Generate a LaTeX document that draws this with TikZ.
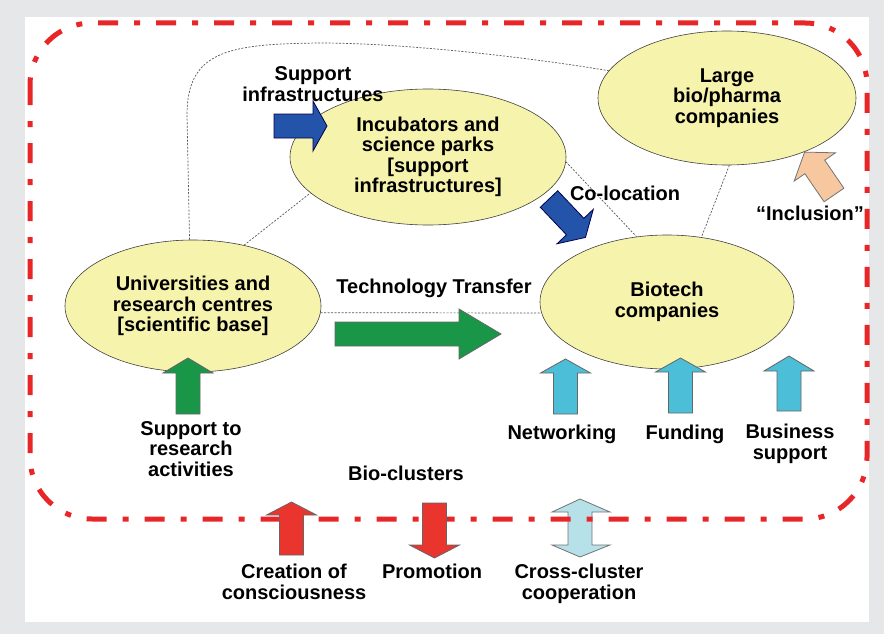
\documentclass[tikz,border=0pt]{standalone}
\usepackage{fontspec}
\setmainfont{Liberation Sans}
\usepackage{tikz}
\usetikzlibrary{shapes,positioning,calc}

\definecolor{framegray}{RGB}{229,231,233}
\definecolor{blobyellow}{RGB}{246,243,172}
\definecolor{clusterred}{RGB}{232,38,40}
\definecolor{infblue}{RGB}{36,84,170}
\definecolor{ttgreen}{RGB}{26,150,72}
\definecolor{suppcyan}{RGB}{76,190,216}
\definecolor{crosscyan}{RGB}{182,225,232}
\definecolor{incpeach}{RGB}{247,200,160}
\definecolor{promred}{RGB}{234,52,46}

% block arrow: style, tail, angle, length, head length
\newcommand{\blockarrow}[5]{%
  \begin{scope}[shift={#2},rotate=#3]
    \draw[#1] (0,-12) -- (#4-#5,-12) -- (#4-#5,-25) -- (#4,0) -- (#4-#5,25) -- (#4-#5,12) -- (0,12) -- cycle;
  \end{scope}}

\begin{document}
\begin{tikzpicture}[x=1pt,y=-1pt,
    font=\fontsize{20}{20.5}\selectfont\bfseries,
    blob/.style={ellipse, draw=black!75, line width=0.6pt, fill=blobyellow, inner sep=0pt, align=center},
    lbl/.style={align=center, inner sep=0pt},
    link/.style={draw=black!65, line width=0.7pt, dash pattern=on 2pt off 1.5pt},
    cluster/.style={draw=clusterred, line width=5pt, rounded corners=62pt, dash pattern=on 20pt off 16pt on 6pt off 16pt},
    bluearr/.style={fill=infblue, draw=black!70!blue, line width=0.8pt},
    greenarr/.style={fill=ttgreen, draw=black!60, line width=0.8pt},
    cyanarr/.style={fill=suppcyan, draw=black!60, line width=0.8pt},
    redarr/.style={fill=promred, draw=black!60, line width=0.8pt},
    peacharr/.style={fill=incpeach, draw=black!55, line width=0.8pt}]

    \fill[framegray] (0,0) rectangle (884,634);
    \useasboundingbox (0,0) rectangle (884,634);
    \fill[white] (25,17) rectangle (869,622);

    % actors
    \node[blob, minimum width=256pt, minimum height=132pt] (uni) at (193,306) {Universities and\\research centres\\{[scientific base]}};
    \node[blob, minimum width=276pt, minimum height=136pt] (incub) at (428,157) {Incubators and\\science parks\\{[support}\\infrastructures]};
    \node[blob, minimum width=258pt, minimum height=134pt] (large) at (727,98) {Large\\bio/pharma\\companies};
    \node[blob, minimum width=254pt, minimum height=134pt] (biotech) at (667,302) {Biotech\\companies};

    % links
    \draw[link] (uni.93) -- (187,115) .. controls (187,50) and (230,44) .. (320,43) .. controls (400,43) and (520,56) .. (large.167);
    \draw[link] (uni.50) -- (incub.197);
    \draw[link] (uni.-3) -- (biotech.185);
    \draw[link] (incub.-2) -- (biotech.115);
    \draw[link] (large.-88) -- (biotech.62);

    % cross-cluster arrow sits under the border
    \draw[fill=crosscyan, draw=black!55, line width=0.8pt] (580,499) -- (610,512) -- (592,512) -- (592,545) -- (610,545) -- (580,557) -- (552,545) -- (568,545) -- (568,512) -- (552,512) -- cycle;

    \draw[cluster] (30,23) rectangle (867,519);

    % block arrows
    \blockarrow{bluearr}{(274,126)}{0}{53}{14}
    \blockarrow{bluearr}{(549,199)}{-46.5}{53}{15}
    \blockarrow{peacharr}{(834,195)}{124.4}{52}{18}
    \blockarrow{greenarr}{(188,414)}{90}{56}{15}
    \blockarrow{greenarr}{(335,334)}{0}{166}{42}
    \blockarrow{cyanarr}{(565.5,414)}{90}{55}{14}
    \blockarrow{cyanarr}{(680.5,413)}{90}{55}{14}
    \blockarrow{cyanarr}{(789,411)}{90}{55}{15}
    \blockarrow{redarr}{(291.5,555)}{90}{53}{13}
    \blockarrow{redarr}{(434.5,503)}{-90}{55}{13}

    % labels
    \node[lbl] (supinf) at (313,84) {Support\\infrastructures};
    \node[lbl] (coloc) at (625,193) {Co-location};
    \node[lbl] (incl) at (810,213) {``Inclusion''};
    \node[lbl] (techtr) at (434,288) {Technology Transfer};
    \node[lbl] (suppres) at (191,449) {Support to\\research\\activities};
    \node[lbl] (netw) at (562,434) {Networking};
    \node[lbl] (fund) at (685,434) {Funding};
    \node[lbl] (busin) at (790,444) {Business\\support};
    \node[lbl] (biocl) at (406,473) {Bio-clusters};
    \node[lbl] (creat) at (294,582) {Creation of\\consciousness};
    \node[lbl] (promo) at (432,571) {Promotion};
    \node[lbl] (cross) at (579,584) {Cross-cluster\\cooperation};
\end{tikzpicture}
\end{document}
